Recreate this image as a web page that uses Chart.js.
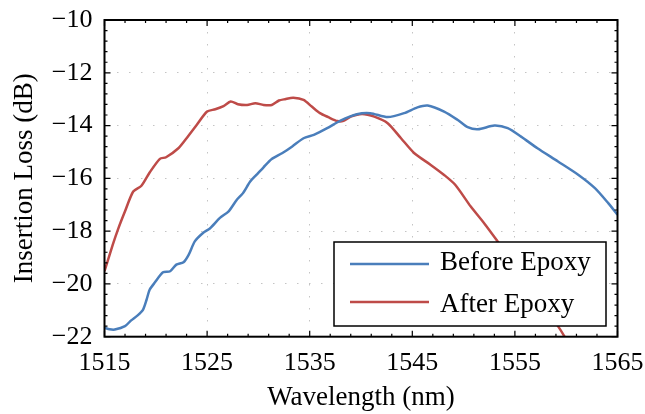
<!DOCTYPE html>
<html>
<head>
  <title>Insertion Loss</title>
  <script src="https://cdn.jsdelivr.net/npm/chart.js"></script>
  <style>
    body {
      margin: 0;
      background-color: white;
    }

    .chart-box {
      width: 645px;
      height: 414px;
    }
  </style>
</head>
<body>
  <div class="chart-box">
    <canvas id="lossChart"></canvas>
  </div>

  <script>
    // valores
    const waveBefore = [1515, 1515.5, 1516, 1517, 1517.6, 1518.2, 1518.75, 1519.1, 1519.4, 1519.9, 1520.7, 1521.4, 1522, 1522.7, 1523.2, 1523.8, 1524.6, 1525.3, 1526.25, 1527.1, 1527.9, 1528.5, 1529.2, 1529.8, 1530.5, 1531.3, 1532.3, 1533.3, 1534.4, 1535.4, 1536.7, 1538, 1539.6, 1540.9, 1542.6, 1544.2, 1545.5, 1546.5, 1548.1, 1549.4, 1550.4, 1551.4, 1553, 1554.3, 1555.6, 1557.2, 1559.2, 1561.2, 1562.8, 1564.1, 1565];
    const lossBefore = [-21.66, -21.72, -21.73, -21.6, -21.38, -21.2, -20.98, -20.6, -20.22, -19.95, -19.56, -19.52, -19.27, -19.18, -18.9, -18.39, -18.07, -17.89, -17.5, -17.25, -16.81, -16.56, -16.12, -15.87, -15.58, -15.27, -15.05, -14.79, -14.48, -14.35, -14.1, -13.81, -13.57, -13.53, -13.68, -13.53, -13.31, -13.24, -13.47, -13.78, -14.06, -14.14, -14.0, -14.1, -14.42, -14.86, -15.36, -15.87, -16.37, -16.94, -17.38];

    const waveAfter = [1515, 1515.8, 1516.3, 1517, 1517.8, 1518.6, 1519.4, 1520.4, 1521, 1522.2, 1523, 1524, 1525, 1525.8, 1526.6, 1527.3, 1528, 1528.9, 1529.7, 1530.5, 1531.3, 1532, 1532.6, 1533.4, 1534.4, 1535.2, 1536, 1536.8, 1537.7, 1538.3, 1539, 1540.1, 1541.3, 1542.6, 1543.9, 1545.2, 1546.8, 1548.1, 1549.2, 1550.7, 1552, 1553.2, 1554.6, 1556, 1557.6, 1559.2, 1560];
    const lossAfter = [-19.52, -18.52, -17.95, -17.25, -16.5, -16.28, -15.78, -15.26, -15.2, -14.86, -14.48, -13.97, -13.47, -13.38, -13.26, -13.09, -13.19, -13.22, -13.15, -13.22, -13.22, -13.05, -13.0, -12.95, -13.03, -13.28, -13.53, -13.68, -13.83, -13.82, -13.66, -13.56, -13.66, -13.91, -14.48, -15.05, -15.49, -15.87, -16.25, -17.07, -17.7, -18.33, -19.1, -19.9, -20.8, -21.6, -22.1];

    const seriesNames = ['Before Epoxy', 'After Epoxy'];
    const seriesColors = ['#4a7ebb', '#be4b48'];

    const xTicks = [1515, 1525, 1535, 1545, 1555, 1565];
    const yTicks = [-22, -20, -18, -16, -14, -12, -10];

    function toPoints(xs, ys) {
      return xs.map((x, i) => ({ x: x, y: ys[i] }));
    }

    // moldura, ticks para dentro e legenda dentro do gráfico
    const framePlugin = {
      id: 'frame',
      afterDatasetsDraw(chart) {
        const ctx = chart.ctx;
        const a = chart.chartArea;
        const xs = chart.scales.x;
        const ys = chart.scales.y;

        ctx.save();
        ctx.strokeStyle = 'black';
        ctx.lineWidth = 1.2;
        ctx.beginPath();
        for (let v = xTicks[0]; v <= xTicks[xTicks.length - 1] + 0.001; v += 2) {
          const px = xs.getPixelForValue(v);
          const len = xTicks.includes(Math.round(v)) ? 6 : 3;
          ctx.moveTo(px, a.bottom); ctx.lineTo(px, a.bottom - len);
          ctx.moveTo(px, a.top); ctx.lineTo(px, a.top + len);
        }
        for (let i = 0; i <= 30; i++) {
          const v = yTicks[0] + i * 0.4;
          const py = ys.getPixelForValue(v);
          const len = i % 5 === 0 ? 6 : 3;
          ctx.moveTo(a.left, py); ctx.lineTo(a.left + len, py);
          ctx.moveTo(a.right, py); ctx.lineTo(a.right - len, py);
        }
        ctx.stroke();

        ctx.lineWidth = 2;
        ctx.strokeRect(a.left, a.top, a.right - a.left, a.bottom - a.top);

        // legenda
        const boxW = 272, boxH = 84;
        const bx = a.right - 11.5 - boxW;
        const by = a.bottom - 10.7 - boxH;
        ctx.fillStyle = 'white';
        ctx.fillRect(bx, by, boxW, boxH);
        ctx.lineWidth = 1.5;
        ctx.strokeRect(bx, by, boxW, boxH);

        ctx.font = '27px "Liberation Serif"';
        ctx.textBaseline = 'alphabetic';
        ctx.textAlign = 'left';
        chart.data.datasets.forEach((ds, i) => {
          const ly = by + 22 + i * 38;
          ctx.strokeStyle = ds.borderColor;
          ctx.lineWidth = 2.5;
          ctx.beginPath();
          ctx.moveTo(bx + 16, ly);
          ctx.lineTo(bx + 95, ly);
          ctx.stroke();
          ctx.fillStyle = 'black';
          ctx.fillText(ds.label, bx + 106, by + 28 + i * 41.5);
        });
        ctx.restore();
      }
    };

    Chart.defaults.font.family = '"Liberation Serif", serif';
    Chart.defaults.color = 'black';

    const ctx = document.getElementById('lossChart').getContext('2d');
    const chart = new Chart(ctx, {
      type: 'line',
      data: {
        datasets: [{
          label: seriesNames[0],
          data: toPoints(waveBefore, lossBefore),
          borderColor: seriesColors[0],
          borderWidth: 2.5,
          pointRadius: 0,
          tension: 0.25,
          fill: false
        }, {
          label: seriesNames[1],
          data: toPoints(waveAfter, lossAfter),
          borderColor: seriesColors[1],
          borderWidth: 2.5,
          pointRadius: 0,
          tension: 0.25,
          fill: false
        }]
      },
      options: {
        responsive: true,
        maintainAspectRatio: false,
        animation: false,
        layout: {
          padding: { top: 20, right: 27.5, bottom: 0, left: 0 }
        },
        plugins: {
          legend: { display: false },
          tooltip: { enabled: false }
        },
        scales: {
          x: {
            type: 'linear',
            min: 1515,
            max: 1565,
            afterFit: function(scale) {
              scale.height = 77.3;
              scale.paddingLeft = 0;
              scale.paddingRight = 0;
            },
            afterBuildTicks: function(scale) { scale.ticks = xTicks.map(v => ({ value: v })); },
            ticks: {
              padding: 11,
              font: { size: 26 },
              callback: function(value) { return String(value); }
            },
            grid: {
              color: '#c4c4c4',
              lineWidth: 1,
              drawTicks: false
            },
            border: { display: false, dash: [1.5, 10.5] },
            title: {
              display: true,
              text: 'Wavelength (nm)',
              font: { size: 27 },
              padding: { top: 0, bottom: 0 }
            }
          },
          y: {
            min: -22,
            max: -10,
            afterFit: function(scale) {
              scale.width = 104.5;
              scale.paddingTop = 0;
              scale.paddingBottom = 0;
            },
            afterBuildTicks: function(scale) { scale.ticks = yTicks.map(v => ({ value: v })); },
            ticks: {
              padding: 12,
              font: { size: 26 },
              callback: function(value) { return String(value).replace('-', '\u2212'); }
            },
            grid: {
              color: '#c4c4c4',
              lineWidth: 1,
              drawTicks: false
            },
            border: { display: false, dash: [1.5, 10.5] },
            title: {
              display: true,
              text: 'Insertion Loss (dB)',
              font: { size: 27 },
              padding: { top: 9, bottom: 0 }
            }
          }
        }
      },
      plugins: [framePlugin]
    });
  </script>
</body>
</html>
